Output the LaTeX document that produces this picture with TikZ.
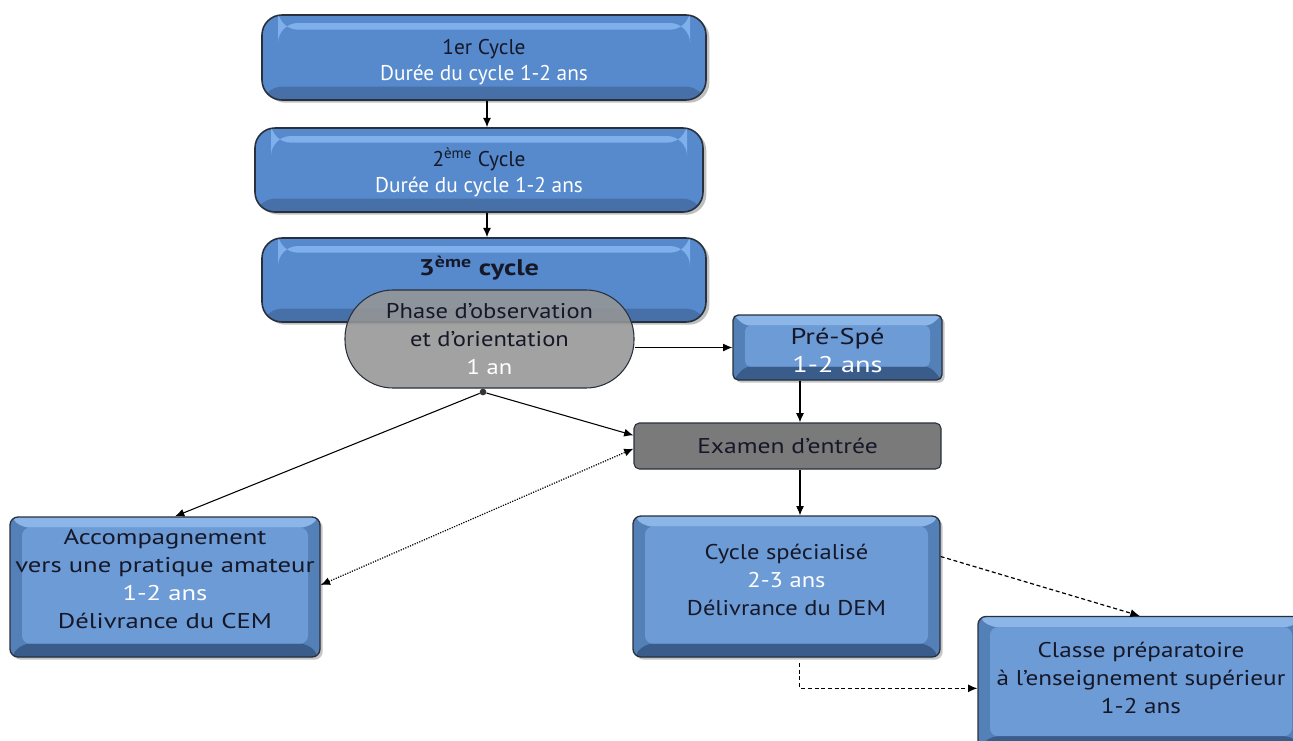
\documentclass[tikz,border=0pt]{standalone}
\usepackage{fontspec}
\setmainfont{PT Sans}
\newfontfamily\widefont[FakeStretch=1.25]{PT Sans}
\newfontfamily\midfont[FakeStretch=1.15]{PT Sans}
\newfontfamily\clfont[FakeStretch=1.18]{PT Sans}
\newfontfamily\exfont[FakeStretch=1.2]{PT Sans}
\usetikzlibrary{shadows,arrows.meta}
\definecolor{blueMain}{RGB}{86,138,204}
\definecolor{blueLight}{RGB}{128,176,236}
\definecolor{blueDarkB}{RGB}{58,92,138}
\definecolor{blueSide}{RGB}{84,128,184}
\definecolor{blueTop}{RGB}{140,182,232}
\definecolor{blueInner}{RGB}{108,155,214}
\definecolor{outline}{RGB}{40,48,62}
\definecolor{phaseGray}{RGB}{150,150,150}
\definecolor{examGray}{RGB}{122,122,122}
\definecolor{txt}{RGB}{22,24,40}
\tikzset{
  topbox/.style={draw=outline, line width=1.2pt, fill=blueMain, rounded corners=15pt,
    drop shadow={shadow xshift=2.5pt,shadow yshift=-2pt,opacity=0.5},
    path picture={
      \fill[blueLight] ([shift={(12pt,-6pt)}]path picture bounding box.north west) rectangle ([shift={(-12pt,-11pt)}]path picture bounding box.north east);
      \fill[blueDarkB,opacity=0.55] ([shift={(0pt,10pt)}]path picture bounding box.south west) rectangle (path picture bounding box.south east);
    },
    text=txt, align=center, inner sep=0pt, font=\fontsize{16}{19.5}\selectfont},
  bevelbox/.style={draw=outline, line width=1pt, fill=blueSide, rounded corners=6pt,
    drop shadow={shadow xshift=2pt,shadow yshift=-2pt,opacity=0.45},
    path picture={
      \fill[blueTop] (path picture bounding box.north west) -- (path picture bounding box.north east) -- ([shift={(-9pt,-8pt)}]path picture bounding box.north east) -- ([shift={(9pt,-8pt)}]path picture bounding box.north west) -- cycle;
      \fill[blueDarkB] (path picture bounding box.south west) -- (path picture bounding box.south east) -- ([shift={(-9pt,10pt)}]path picture bounding box.south east) -- ([shift={(9pt,10pt)}]path picture bounding box.south west) -- cycle;
      \fill[blueInner] ([shift={(9pt,-8pt)}]path picture bounding box.north west) rectangle ([shift={(-9pt,10pt)}]path picture bounding box.south east);
    },
    text=txt, align=center, inner sep=0pt, font=\widefont\fontsize{16}{21}\selectfont},
  phasebox/.style={draw=outline, line width=0.8pt, fill=phaseGray, fill opacity=0.88, text opacity=1,
    rounded corners=36pt, text=txt, align=center, inner sep=0pt, font=\midfont\fontsize{16}{21}\selectfont},
  exambox/.style={draw=outline, line width=0.8pt, fill=examGray, rounded corners=4pt,
    text=txt, align=center, inner sep=0pt, font=\exfont\fontsize{16}{21}\selectfont},
  arr/.style={draw=black, line width=0.8pt, -{Latex[length=7pt,width=6pt]}},
  dotarr/.style={draw=black, line width=0.9pt, densely dotted, {Latex[length=7pt,width=6pt]}-{Latex[length=7pt,width=6pt]}},
  dasharr/.style={draw=black, line width=0.9pt, densely dashed, -{Latex[length=7pt,width=6pt]}}
}
\newcommand\wtx[1]{\textcolor{white}{#1}}
\begin{document}
\begin{tikzpicture}[x=0.75pt,y=-0.75pt]
\useasboundingbox (0,0) rectangle (1293,740);
\fill[white] (0,0) rectangle (1293,740);
\coordinate (colA) at (487,0);
\coordinate (colB) at (800,0);

\node[topbox, minimum width=333pt, minimum height=63.75pt] (c1) at (484,57.5)
  {\mbox{}\\[-1.5pt]1er Cycle\\\wtx{Durée du cycle 1-2 ans}};
\node[topbox, minimum width=336pt, minimum height=63pt] (c2) at (479,170)
  {\mbox{}\\[-1.5pt]2\textsuperscript{ème} Cycle\\\wtx{Durée du cycle 1-2 ans}};
\node[topbox, minimum width=333pt, minimum height=63pt] (c3) at (484,280) {};
\node[text=txt, font=\widefont\bfseries\fontsize{17}{19}\selectfont] (t3) at (479,268) {3\textsuperscript{ème} cycle};

\node[phasebox, minimum width=216.75pt, minimum height=73.5pt] (phase) at (489.5,339)
  {Phase d’observation\\et d’orientation\\\wtx{1 an}};

\node[bevelbox, rounded corners=4pt, minimum width=156.75pt, minimum height=48.75pt,
  font=\widefont\fontsize{17}{21}\selectfont] (prespe) at (837.5,347.5)
  {\mbox{}\\[-5pt]Pré-Spé\\\wtx{1-2 ans}};
\node[exambox, minimum width=230.25pt, minimum height=34.5pt] (exam) at (787.5,446) {Examen d’entrée};

\node[bevelbox, minimum width=232.5pt, minimum height=105pt] (accomp) at (165,587)
  {Accompagnement\\vers une pratique amateur\\\wtx{1-2 ans}\\Délivrance du CEM\\[-9pt]\mbox{}};
\node[bevelbox, minimum width=230.25pt, minimum height=105.75pt,
  font=\midfont\fontsize{16}{21}\selectfont] (cs) at (786.5,586.5)
  {Cycle spécialisé\\\wtx{2-3 ans}\\Délivrance du DEM\\[-10.5pt]\mbox{}};
\node[bevelbox, minimum width=244.5pt, minimum height=99.75pt,
  font=\clfont\fontsize{16}{21}\selectfont] (classe) at (1141,683)
  {Classe préparatoire\\à l’enseignement supérieur\\1-2 ans\\[-13.2pt]\mbox{}};

\node[circle, fill=black!80, inner sep=0pt, minimum size=5pt] (dot) at (483,392) {};

\draw[arr] (c1.south -| colA) -- (c2.north -| colA);
\draw[arr] (c2.south -| colA) -- (c3.north -| colA);
\draw[arr] (phase.east |- prespe.west) -- (prespe.west);
\draw[arr] (prespe.south -| colB) -- (exam.north -| colB);
\draw[arr] (exam.south -| colB) -- (cs.north -| colB);
\draw[arr] (dot) -- ([yshift=8pt]exam.west);
\draw[arr] (dot) -- ([xshift=7.5pt]accomp.north);
\draw[dotarr] ([yshift=1.5pt]accomp.east) -- ([yshift=-2pt]exam.west);
\draw[dasharr] ([yshift=22.5pt]cs.east) -- ([xshift=-1pt]classe.north);
\draw[dasharr] ([xshift=10pt,yshift=-4pt]cs.south) |- ([yshift=-4pt]classe.west);
\end{tikzpicture}
\end{document}
